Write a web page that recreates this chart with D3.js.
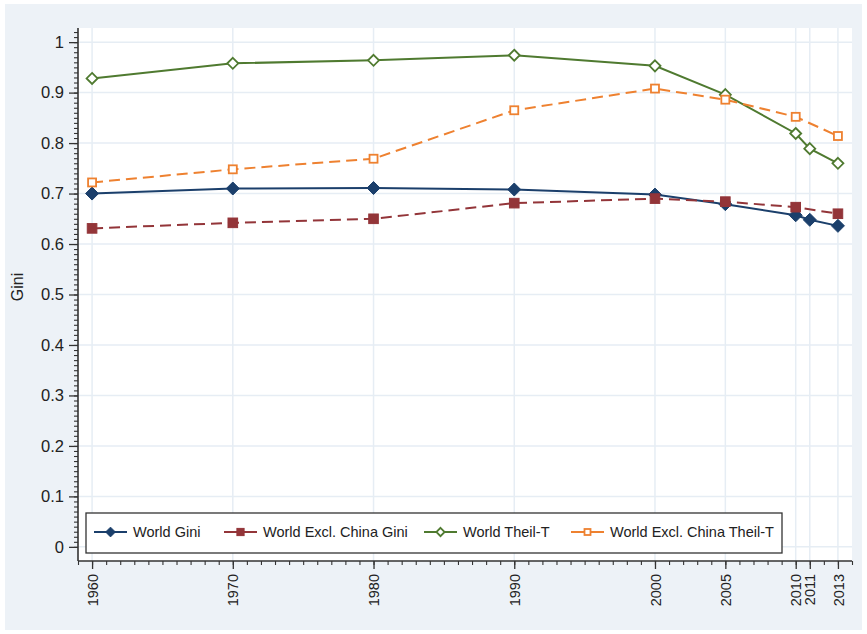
<!DOCTYPE html>
<html>
<head>
<meta charset="utf-8">
<script src="https://cdn.jsdelivr.net/npm/d3@7"></script>
<style>
  html, body { margin: 0; padding: 0; background: #ffffff; }
  svg { display: block; font-family: "Liberation Sans", Arial, sans-serif; }
</style>
</head>
<body>
<svg id="chart" width="867" height="634"></svg>
<script>
// Inequality measures by year
const years = [1960, 1970, 1980, 1990, 2000, 2005, 2010, 2011, 2013];
const worldGini = [0.700, 0.710, 0.711, 0.708, 0.698, 0.679, 0.657, 0.648, 0.636];
const exclChinaGiniYears = [1960, 1970, 1980, 1990, 2000, 2005, 2010, 2013];
const exclChinaGini = [0.631, 0.642, 0.650, 0.681, 0.690, 0.684, 0.673, 0.660];
const worldTheil = [0.928, 0.958, 0.964, 0.974, 0.953, 0.896, 0.819, 0.789, 0.760];
const exclChinaTheilYears = [1960, 1970, 1980, 1990, 2000, 2005, 2010, 2013];
const exclChinaTheil = [0.722, 0.748, 0.769, 0.865, 0.908, 0.886, 0.852, 0.814];
const yTicks = [0, 0.1, 0.2, 0.3, 0.4, 0.5, 0.6, 0.7, 0.8, 0.9, 1];
const yTickLabels = ["0", "0.1", "0.2", "0.3", "0.4", "0.5", "0.6", "0.7", "0.8", "0.9", "1"];
const seriesNames = ["World Gini", "World Excl. China Gini", "World Theil-T", "World Excl. China Theil-T"];

const svg = d3.select("#chart");

// Graph region background
svg.append("rect").attr("x", 5).attr("y", 4).attr("width", 857).attr("height", 626)
  .attr("fill", "#edf2f7");

const plot = { left: 78, right: 852, top: 28, bottom: 561 };
svg.append("rect").attr("x", plot.left).attr("y", plot.top)
  .attr("width", plot.right - plot.left).attr("height", plot.bottom - plot.top)
  .attr("fill", "#ffffff");

const x = d3.scaleLinear().domain([1959, 2014]).range([plot.left, plot.right]);
const y = d3.scaleLinear().domain([-0.028, 1.028]).range([plot.bottom, plot.top]);

// Grid lines
const grid = svg.append("g");
grid.selectAll("line.h").data(yTicks).join("line")
  .attr("x1", plot.left).attr("x2", plot.right)
  .attr("y1", d => y(d)).attr("y2", d => y(d))
  .attr("stroke", "#e6edf4").attr("stroke-width", 1.5);
grid.selectAll("line.v").data(years).join("line")
  .attr("x1", d => x(d)).attr("x2", d => x(d))
  .attr("y1", plot.top).attr("y2", plot.bottom)
  .attr("stroke", "#e6edf4").attr("stroke-width", 1.5);

// Y axis: major ticks every 0.1, minor every 0.01
const yMinor = d3.range(0, 103).map(i => i / 100).filter(v => v <= 1.028);
const yMinorAxis = d3.axisLeft(y).tickValues(yMinor).tickSize(4).tickFormat("");
svg.append("g").attr("transform", `translate(${plot.left},0)`).call(yMinorAxis)
  .call(g => g.select(".domain").remove())
  .call(g => g.selectAll("line").attr("stroke", "#333").attr("stroke-width", 1.1));

const yAxis = d3.axisLeft(y).tickValues(yTicks).tickSize(9).tickPadding(5)
  .tickFormat((d, i) => yTickLabels[i]);
svg.append("g").attr("transform", `translate(${plot.left},0)`).call(yAxis)
  .call(g => g.select(".domain").attr("d", `M0,${plot.top}V${plot.bottom}`)
    .attr("stroke", "#333").attr("stroke-width", 1.6))
  .call(g => g.selectAll(".tick line").attr("stroke", "#333").attr("stroke-width", 1.3))
  .call(g => g.selectAll(".tick text").attr("fill", "#222")
    .style("font-size", "16.5px").style("font-family", "Liberation Sans, Arial, sans-serif"));

// X axis: major ticks at data years, minor every year
const xMinor = d3.range(1959, 2015);
const xMinorAxis = d3.axisBottom(x).tickValues(xMinor).tickSize(4).tickFormat("");
svg.append("g").attr("transform", `translate(0,${plot.bottom})`).call(xMinorAxis)
  .call(g => g.select(".domain").remove())
  .call(g => g.selectAll("line").attr("stroke", "#333").attr("stroke-width", 1.1));

const xAxis = d3.axisBottom(x).tickValues(years).tickSize(8).tickFormat(d3.format("d"));
svg.append("g").attr("transform", `translate(0,${plot.bottom})`).call(xAxis)
  .call(g => g.select(".domain").attr("d", `M${plot.left},0H${plot.right}`)
    .attr("stroke", "#333").attr("stroke-width", 1.6))
  .call(g => g.selectAll(".tick line").attr("stroke", "#333").attr("stroke-width", 1.3))
  .call(g => g.selectAll(".tick text")
    .attr("transform", "rotate(-90)")
    .attr("x", -13).attr("y", 0).attr("dy", "0.35em")
    .attr("text-anchor", "end").attr("fill", "#222")
    .style("font-size", "14.5px").style("font-family", "Liberation Sans, Arial, sans-serif"));

// Y axis title
svg.append("text").attr("transform", "translate(23,287) rotate(-90)")
  .attr("text-anchor", "middle").attr("fill", "#222")
  .style("font-size", "16px").text("Gini");

// Series definitions
const series = [
  { name: seriesNames[0], xs: years, ys: worldGini, color: "#1b3f6b", dash: null, marker: "diamond", fill: true },
  { name: seriesNames[1], xs: exclChinaGiniYears, ys: exclChinaGini, color: "#933539", dash: "11,6", marker: "square", fill: true },
  { name: seriesNames[2], xs: years, ys: worldTheil, color: "#4f7a30", dash: null, marker: "diamond", fill: false },
  { name: seriesNames[3], xs: exclChinaTheilYears, ys: exclChinaTheil, color: "#ee8130", dash: "11,6", marker: "square", fill: false }
];

const line = d3.line().x(d => x(d[0])).y(d => y(d[1]));

function drawMarker(g, cx, cy, s, scale) {
  const k = scale || 1;
  if (s.marker === "diamond") {
    const r = (s.fill ? 6.5 : 5.5) * k;
    g.append("path")
      .attr("d", `M${cx},${cy - r}L${cx + r},${cy}L${cx},${cy + r}L${cx - r},${cy}Z`)
      .attr("fill", s.fill ? s.color : "#ffffff")
      .attr("stroke", s.color).attr("stroke-width", s.fill ? 1 : 1.8);
  } else {
    const h = (s.fill ? 4.8 : 4.0) * k;
    g.append("rect").attr("x", cx - h).attr("y", cy - h)
      .attr("width", 2 * h).attr("height", 2 * h)
      .attr("fill", s.fill ? s.color : "#ffffff")
      .attr("stroke", s.color).attr("stroke-width", s.fill ? 1 : 1.8);
  }
}

const marks = svg.append("g");
series.forEach(s => {
  const pts = s.xs.map((yr, i) => [yr, s.ys[i]]);
  marks.append("path").datum(pts).attr("d", line)
    .attr("fill", "none").attr("stroke", s.color).attr("stroke-width", 2)
    .attr("stroke-dasharray", s.dash);
});
series.forEach(s => {
  const g = marks.append("g");
  s.xs.forEach((yr, i) => drawMarker(g, x(yr), y(s.ys[i]), s));
});

// Legend
const legend = svg.append("g");
legend.append("rect").attr("x", 86).attr("y", 513).attr("width", 696).attr("height", 40)
  .attr("fill", "#ffffff").attr("stroke", "#333").attr("stroke-width", 1.3);
const legendX = [94, 224, 424, 571];
series.forEach((s, i) => {
  const lx = legendX[i], ly = 532;
  legend.append("line").attr("x1", lx).attr("x2", lx + 33).attr("y1", ly).attr("y2", ly)
    .attr("stroke", s.color).attr("stroke-width", 2);
  drawMarker(legend, lx + 16.5, ly, s, 0.75);
  legend.append("text").attr("x", lx + 39).attr("y", ly).attr("dy", "0.35em")
    .attr("fill", "#222").style("font-size", "14.5px").text(s.name);
});
</script>
</body>
</html>
